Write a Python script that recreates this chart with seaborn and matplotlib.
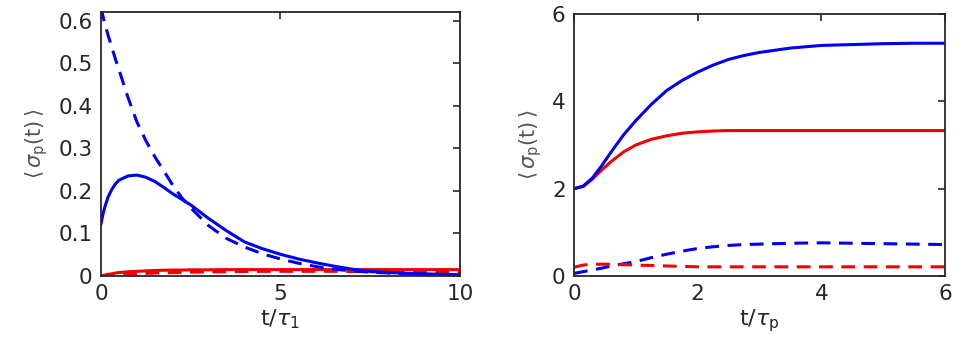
import numpy as np
import pandas as pd
import seaborn as sns
import matplotlib.pyplot as plt

# left panel: t / tau_1
t1 = [0, 0.05, 0.1, 0.2, 0.3, 0.4, 0.5, 0.75, 1.0, 1.25, 1.5, 1.75, 2.0, 2.25, 2.5, 3.0,
      3.5, 4.0, 4.5, 5.0, 5.5, 6.0, 6.5, 7.0, 7.5, 8.0, 9.0, 10.0]
blue_solid_1 = [0.122, 0.143, 0.160, 0.186, 0.203, 0.216, 0.225, 0.235, 0.237, 0.232,
                0.222, 0.208, 0.193, 0.180, 0.167, 0.135, 0.106, 0.080, 0.064, 0.051,
                0.040, 0.031, 0.023, 0.016, 0.011, 0.008, 0.005, 0.003]
blue_dash_1 = [0.630, 0.612, 0.595, 0.565, 0.538, 0.510, 0.485, 0.420, 0.362, 0.318,
               0.280, 0.247, 0.213, 0.184, 0.160, 0.118, 0.088, 0.068, 0.052, 0.040,
               0.030, 0.022, 0.016, 0.012, 0.009, 0.007, 0.004, 0.002]
red_solid_1 = [0.0, 0.001, 0.002, 0.004, 0.005, 0.007, 0.008, 0.010, 0.011, 0.012,
               0.013, 0.0135, 0.014, 0.014, 0.0145, 0.0145, 0.015, 0.015, 0.015, 0.015,
               0.015, 0.015, 0.015, 0.015, 0.015, 0.015, 0.015, 0.015]
red_dash_1 = [0.0, 0.0002, 0.0005, 0.001, 0.0015, 0.002, 0.003, 0.004, 0.005, 0.006,
              0.007, 0.0075, 0.008, 0.0085, 0.009, 0.0095, 0.010, 0.0105, 0.011, 0.011,
              0.011, 0.011, 0.011, 0.0105, 0.010, 0.010, 0.0095, 0.009]

# right panel: t / tau_p
tp = [0, 0.15, 0.3, 0.45, 0.6, 0.8, 1.0, 1.25, 1.5, 1.75, 2.0, 2.25, 2.5, 2.75,
      3.0, 3.5, 4.0, 4.5, 5.0, 5.5, 6.0]
blue_solid_p = [2.0, 2.06, 2.25, 2.53, 2.84, 3.23, 3.56, 3.93, 4.25, 4.48, 4.67,
                4.83, 4.96, 5.05, 5.12, 5.22, 5.28, 5.30, 5.32, 5.33, 5.33]
red_solid_p = [2.0, 2.05, 2.22, 2.43, 2.62, 2.84, 3.00, 3.13, 3.21, 3.27, 3.30,
               3.32, 3.33, 3.33, 3.33, 3.33, 3.33, 3.33, 3.33, 3.33, 3.33]
blue_dash_p = [0.06, 0.10, 0.14, 0.18, 0.23, 0.28, 0.33, 0.42, 0.50, 0.57, 0.63,
               0.67, 0.70, 0.72, 0.73, 0.75, 0.76, 0.75, 0.74, 0.73, 0.72]
red_dash_p = [0.20, 0.25, 0.27, 0.27, 0.27, 0.26, 0.25, 0.24, 0.23, 0.22, 0.21,
              0.21, 0.21, 0.21, 0.21, 0.21, 0.21, 0.21, 0.21, 0.21, 0.21]

sns.set_style("white")
plt.rcParams['font.family'] = ['DejaVu Sans']
plt.rcParams['mathtext.fontset'] = 'dejavusans'

fig = plt.figure(figsize=(9.58, 3.48), dpi=100)
ax1 = fig.add_axes([0.1054, 0.2069, 0.3747, 0.7586])
ax2 = fig.add_axes([0.5992, 0.2069, 0.3873, 0.7529])

dash = (0, (4.5, 2.8))
lw = 2.2
BLUE, RED = '#0000f0', '#f00000'

sns.lineplot(x=t1, y=red_dash_1, ax=ax1, color=RED, lw=lw, linestyle=dash)
sns.lineplot(x=t1, y=red_solid_1, ax=ax1, color=RED, lw=lw)
sns.lineplot(x=t1, y=blue_dash_1, ax=ax1, color=BLUE, lw=lw, linestyle=dash)
sns.lineplot(x=t1, y=blue_solid_1, ax=ax1, color=BLUE, lw=lw)

sns.lineplot(x=tp, y=blue_dash_p, ax=ax2, color=BLUE, lw=lw, linestyle=dash)
sns.lineplot(x=tp, y=red_dash_p, ax=ax2, color=RED, lw=lw, linestyle=dash)
sns.lineplot(x=tp, y=red_solid_p, ax=ax2, color=RED, lw=lw)
sns.lineplot(x=tp, y=blue_solid_p, ax=ax2, color=BLUE, lw=lw)

ax1.set_xlim(0, 10)
ax1.set_ylim(0, 0.62)
ax1.set_xticks([0, 5, 10])
ax1.set_yticks([0, 0.1, 0.2, 0.3, 0.4, 0.5, 0.6])
ax1.set_yticklabels(['0', '0.1', '0.2', '0.3', '0.4', '0.5', '0.6'])
ax1.set_xlabel(r'$\mathrm{t}/\tau_{\mathrm{1}}$', fontsize=16, color='#262626', labelpad=2)

ax2.set_xlim(0, 6)
ax2.set_ylim(0, 6)
ax2.set_xticks([0, 2, 4, 6])
ax2.set_yticks([0, 2, 4, 6])
ax2.set_xlabel(r'$\mathrm{t}/\tau_{\mathrm{p}}$', fontsize=16, color='#262626', labelpad=2)

ylab = r'$\langle\,\sigma_{\mathrm{p}}\mathrm{(t)}\,\rangle$'
for ax in (ax1, ax2):
    ax.set_ylabel(ylab, fontsize=15, color='#555555', labelpad=6)
    ax.tick_params(direction='in', length=5, width=1.2, colors='#262626',
                   labelsize=15.5, top=True, right=True, pad=6)
    for s in ax.spines.values():
        s.set_visible(True)
        s.set_color('#262626')
        s.set_linewidth(1.3)

fig.savefig('out.png', dpi=100)
